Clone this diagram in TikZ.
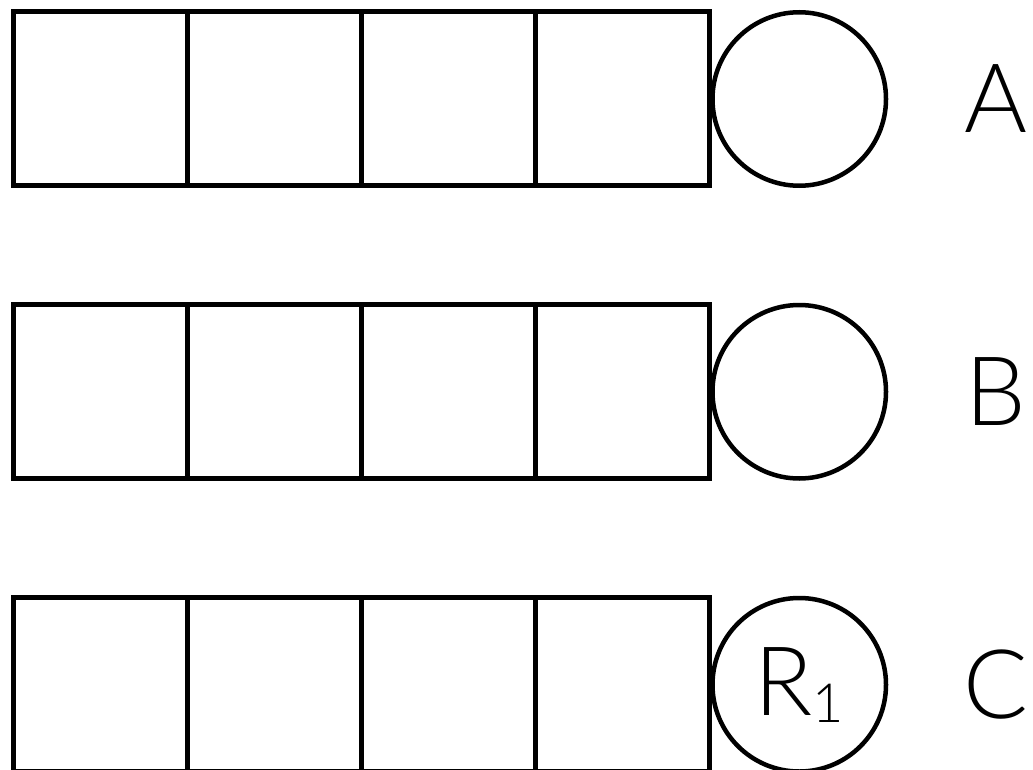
\documentclass[tikz,border=0pt]{standalone}
\usepackage{fontspec}
\IfFontExistsTF{Lato Light}{\setmainfont{Lato Light}}{\setmainfont{TeX Gyre Heros}}
\usetikzlibrary{positioning}

\begin{document}
\begin{tikzpicture}[
    x=1pt,
    y=-1pt,
    node distance=0pt,
    cell/.style={draw, line width=5pt, minimum size=174pt, inner sep=0pt, outer sep=0pt},
    ball/.style={draw, circle, line width=4.5pt, minimum size=173.5pt, inner sep=0pt, outer sep=0pt, font=\fontsize{96}{96}\selectfont},
    tag/.style={inner sep=0pt, font=\fontsize{96}{96}\selectfont}
]
\useasboundingbox (0,0) rectangle (1033,770);
\foreach \row/\y/\txt in {A/99/{}, B/391.75/{}, C/684.75/{R\raisebox{-7pt}{\fontsize{54}{54}\selectfont 1}}} {
    \node[cell] (\row1) at (100.5,\y) {};
    \node[cell, right=of \row1] (\row2) {};
    \node[cell, right=of \row2] (\row3) {};
    \node[cell, right=of \row3] (\row4) {};
    \node[ball, right=3pt of \row4] (\row c) {\txt};
    \node[tag] (\row t) at (996,\y) {\row};
}
\end{tikzpicture}
\end{document}
